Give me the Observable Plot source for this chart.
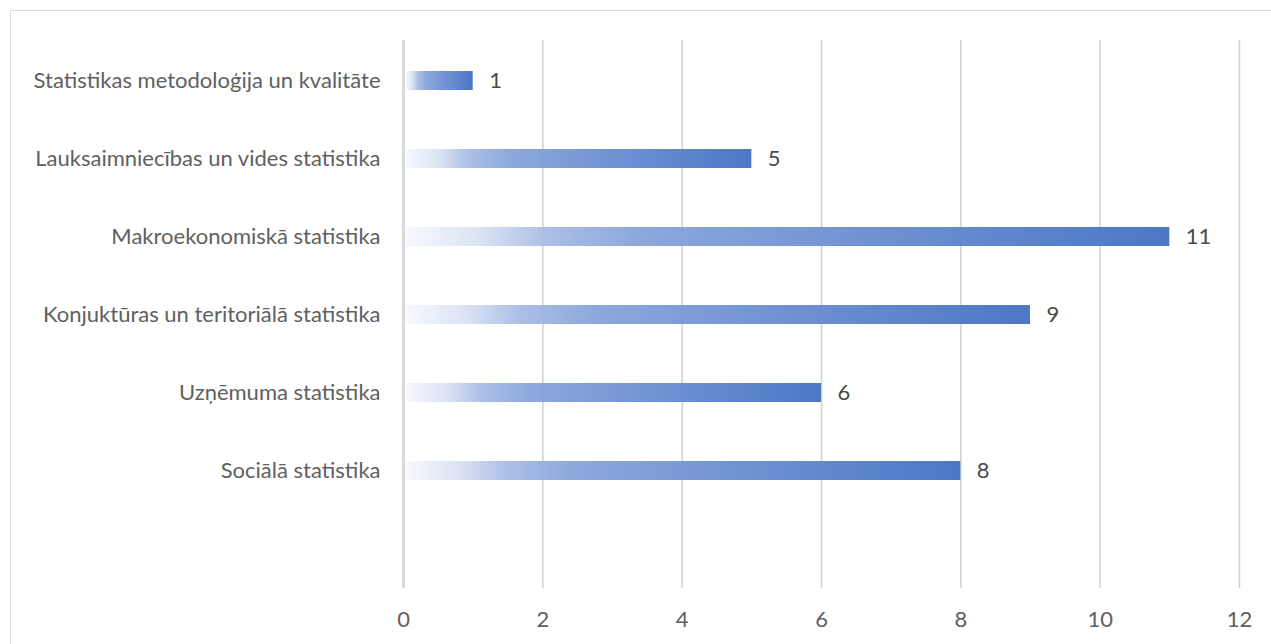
<!DOCTYPE html>
<html>
<head>
<meta charset="utf-8">
<script src="https://cdn.jsdelivr.net/npm/d3@7"></script>
<script src="https://cdn.jsdelivr.net/npm/@observablehq/plot@0.6"></script>
<style>
  html, body { margin: 0; padding: 0; background: #fff; overflow: hidden; }
  #frame { position: absolute; left: 10px; top: 10px; width: 1400px; height: 800px; border: 1.5px solid #d9d9d9; box-sizing: border-box; }
  #chart { position: absolute; left: 0; top: 0; }
</style>
</head>
<body>
<div id="frame"></div>
<div id="chart"></div>
<script>
const categories = [
  "Statistikas metodoloģija un kvalitāte",
  "Lauksaimniecības un vides statistika",
  "Makroekonomiskā statistika",
  "Konjuktūras un teritoriālā statistika",
  "Uzņēmuma statistika",
  "Sociālā statistika"
];
const values = [1, 5, 11, 9, 6, 8];
const xTicks = [0, 2, 4, 6, 8, 10, 12];

const data = categories.map((c, i) => ({category: c, value: values[i]}));
const yDomain = [...categories, " "];

const font = "Lato, sans-serif";

const chart = Plot.plot({
  width: 1271,
  height: 644,
  marginLeft: 403,
  marginRight: 32,
  marginTop: 40,
  marginBottom: 56,
  style: {fontFamily: font, fontSize: "22px", color: "#595959", background: "transparent"},
  x: {domain: [0, 12], ticks: xTicks, tickSize: 0, tickPadding: 23, label: null},
  y: {domain: yDomain, paddingInner: 0.76, paddingOuter: 0.38, tickSize: 0, tickPadding: 23, label: null},
  marks: [
    Plot.ruleX(xTicks.filter(d => d !== 0), {stroke: "#d0d0d0", strokeWidth: 1.5, strokeOpacity: 1}),
    Plot.ruleX([0], {stroke: "#d9d9d9", strokeWidth: 3, strokeOpacity: 1}),
    Plot.barX(data, {x: "value", y: "category", fill: "url(#barGrad)", fillOpacity: 0.96, insetLeft: 3}),
    Plot.text(data, {x: "value", y: "category", text: d => String(d.value), textAnchor: "start", dx: 16, fill: "#4a4a4a", fontSize: 22}),
    Plot.axisX({ticks: xTicks, tickSize: 0, tickPadding: 23, fill: "#606060"}),
    Plot.axisY({tickSize: 0, tickPadding: 23, fill: "#606060"})
  ]
});

const svgNS = "http://www.w3.org/2000/svg";
const defs = document.createElementNS(svgNS, "defs");
const grad = document.createElementNS(svgNS, "linearGradient");
grad.setAttribute("id", "barGrad");
grad.setAttribute("x1", "0"); grad.setAttribute("y1", "0");
grad.setAttribute("x2", "1"); grad.setAttribute("y2", "0");
[["0%", "#f6f8fd"], ["10%", "#d8e1f2"], ["18%", "#a9bde6"], ["30%", "#88a5db"], ["60%", "#6a8ed1"], ["100%", "#4472c4"]].forEach(([o, c]) => {
  const s = document.createElementNS(svgNS, "stop");
  s.setAttribute("offset", o);
  s.setAttribute("stop-color", c);
  grad.appendChild(s);
});
defs.appendChild(grad);
chart.insertBefore(defs, chart.firstChild);

document.getElementById("chart").appendChild(chart);
</script>
</body>
</html>
